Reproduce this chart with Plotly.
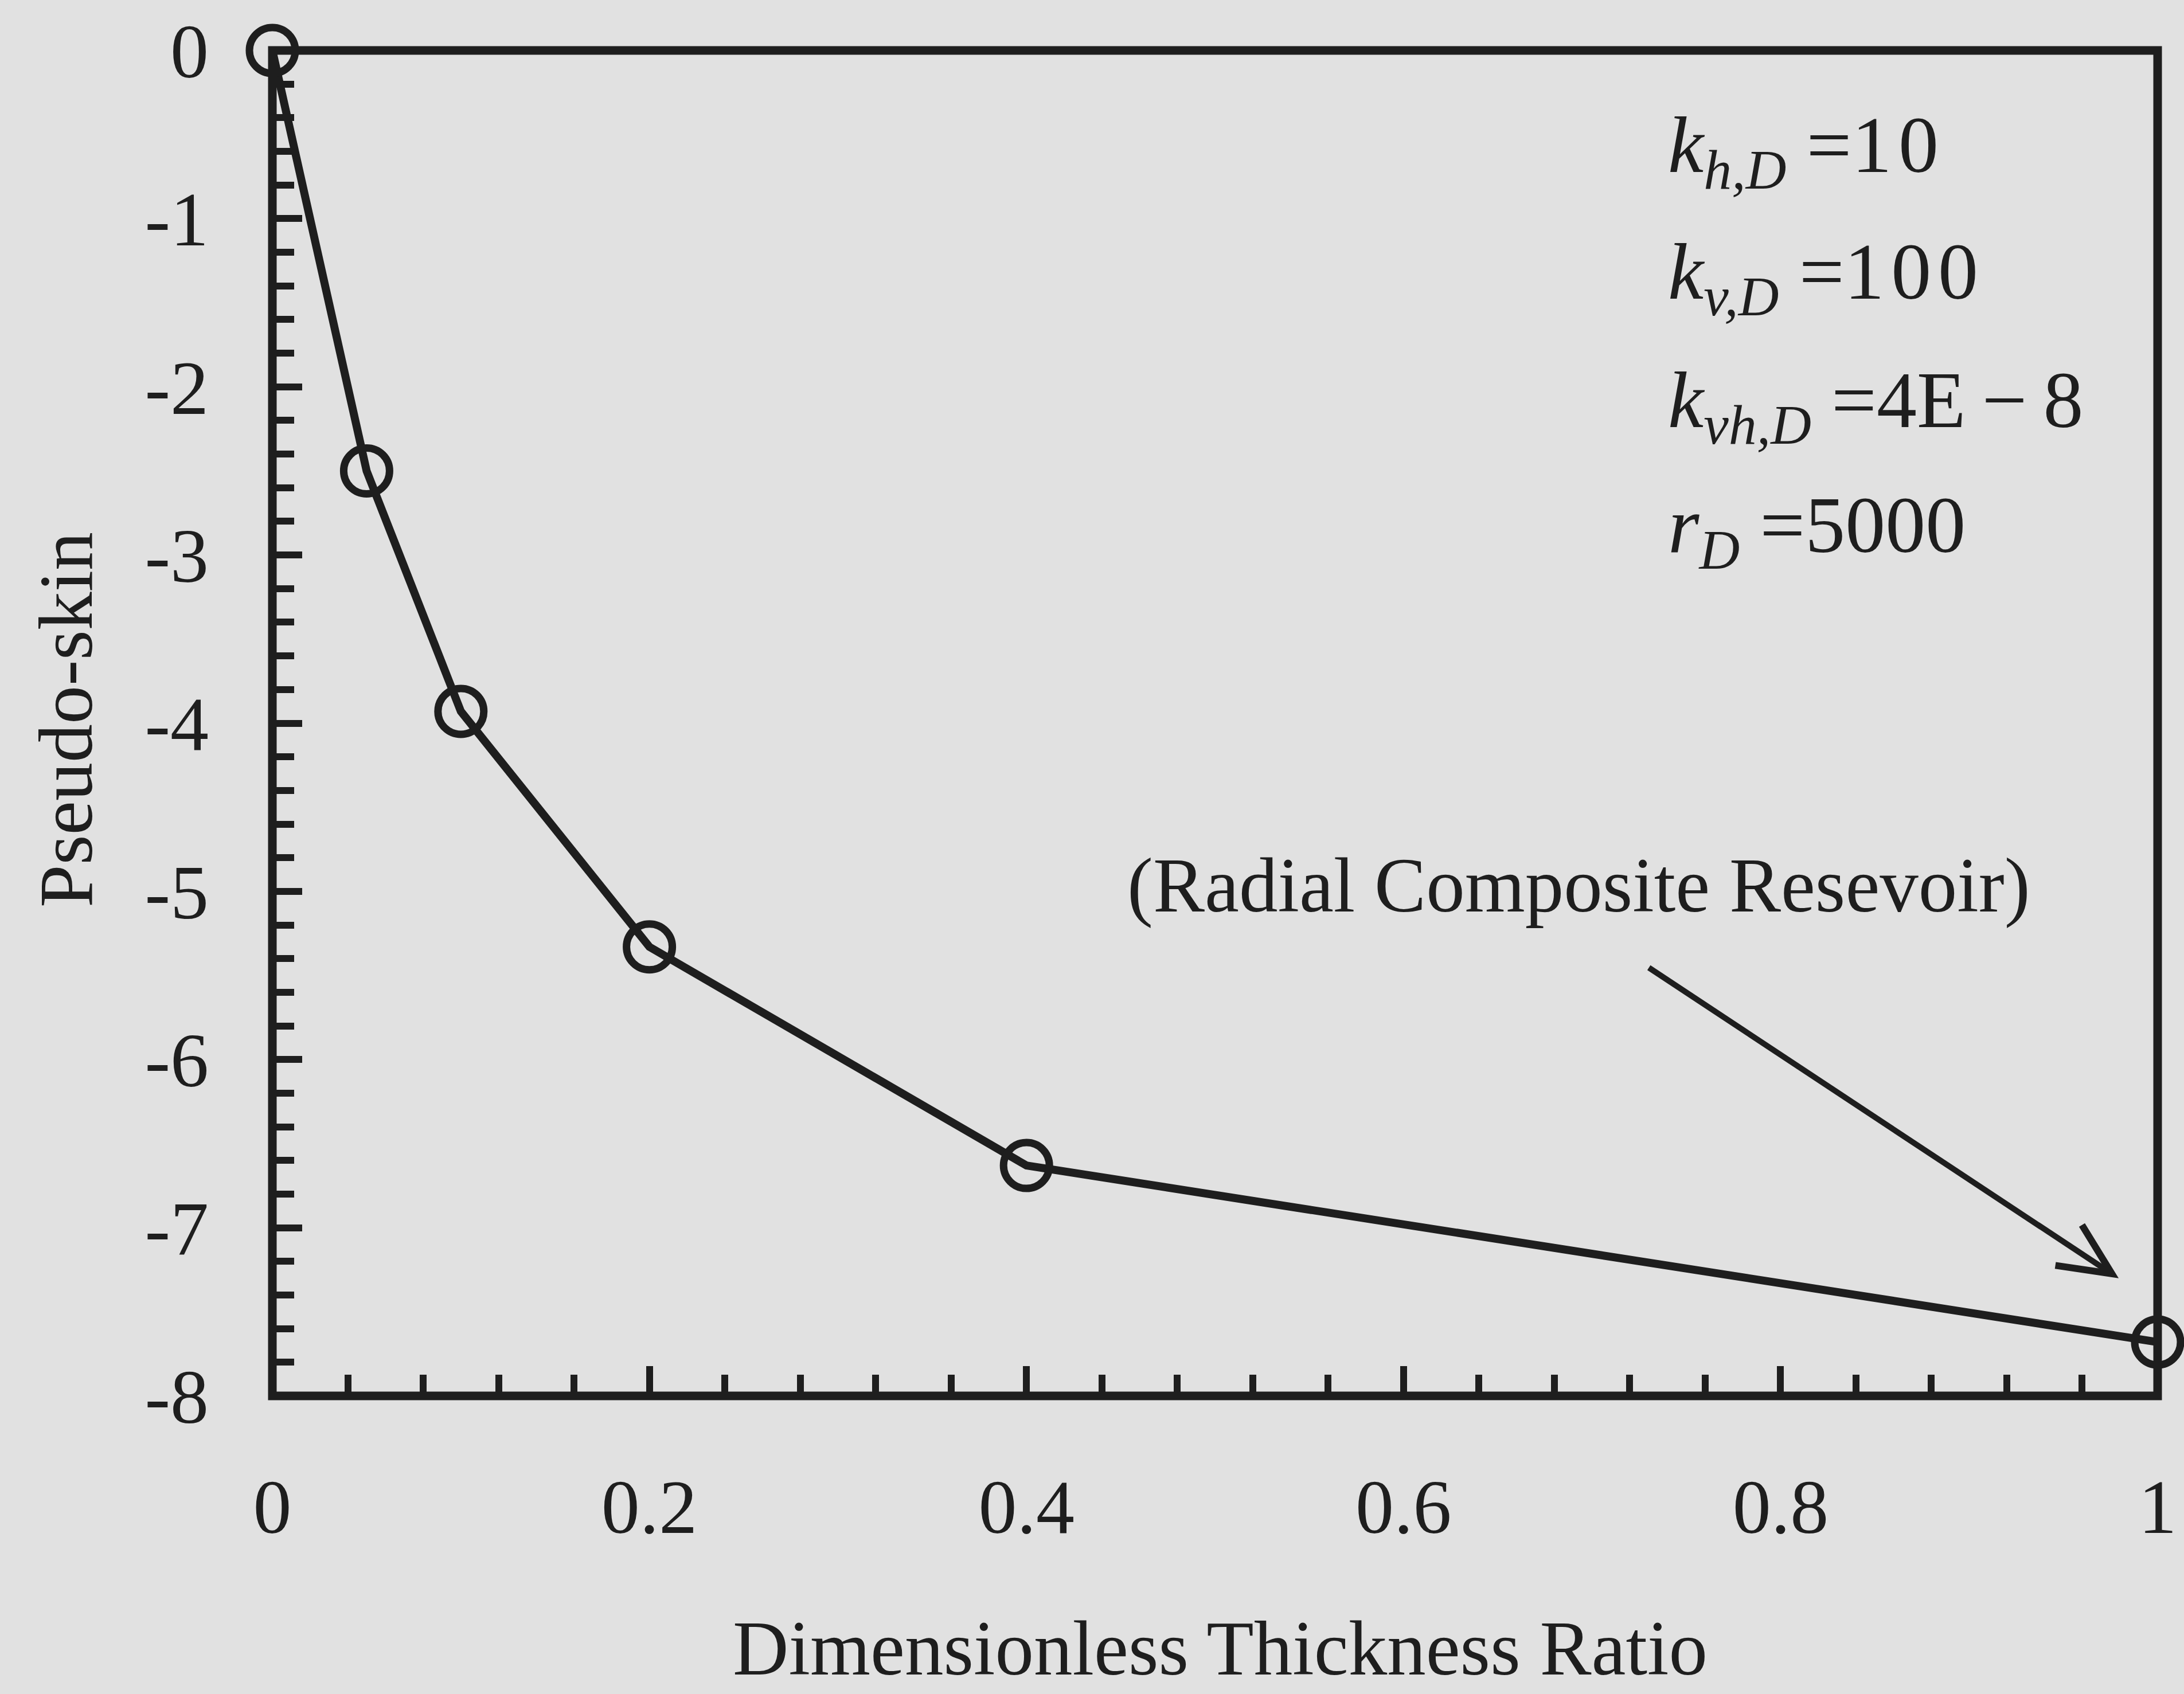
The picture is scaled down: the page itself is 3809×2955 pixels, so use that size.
import math
import plotly.graph_objects as go

# Pseudo-skin against dimensionless thickness ratio (radial composite reservoir)
thickness_ratio = [0.0, 0.05, 0.10, 0.20, 0.40, 1.00]
pseudo_skin = [0.0, -2.50, -3.93, -5.33, -6.63, -7.68]

x_tickvals = [0, 0.2, 0.4, 0.6, 0.8, 1.0]
x_ticktext = ["0", "0.2", "0.4", "0.6", "0.8", "1"]
y_tickvals = [0, -1, -2, -3, -4, -5, -6, -7, -8]
y_ticktext = ["0", "-1", "-2", "-3", "-4", "-5", "-6", "-7", "-8"]

param_lines = [
    "<i>k</i><sub><i>h,D</i></sub> =1\u200a0",
    "<i>k</i><sub><i>v,D</i></sub> =1\u200a0\u200a0",
    "<i>k</i><sub><i>vh,D</i></sub> =4E\u2009\u2212\u20098",
    "<i>r</i><sub><i>D</i></sub> =5000",
]
reservoir_label = "(Radial Composite Resevoir)"
x_title = "Dimensionless Thickness Ratio"
y_title = "Pseudo-skin"

# ---- page geometry (pixels) ----
W, H = 3809, 2955
L, R, T, B = 475, 3773, 88, 2435
INK = "#1e1e1e"
BG = "#e1e1e1"
FONT = "Liberation Serif, Times New Roman, serif"


def px_x(px):
    return (px - L) / (R - L)


def px_y(py):
    return (B - py) / (B - T)


fig = go.Figure()
fig.add_trace(
    go.Scatter(
        x=thickness_ratio,
        y=pseudo_skin,
        mode="lines+markers",
        line=dict(color=INK, width=14),
        marker=dict(symbol="circle-open", size=80, color=INK, line=dict(width=13, color=INK)),
        cliponaxis=False,
        showlegend=False,
    )
)

# plot frame
shapes = [
    dict(type="rect", xref="paper", yref="paper", x0=0, x1=1, y0=0, y1=1,
         line=dict(color=INK, width=15), layer="above")
]

# callout arrow with an open head
tail = (2883, 1688)
tip = (3693, 2222)
ang = math.atan2(tip[1] - tail[1], tip[0] - tail[0])
head_len, half = 100, math.radians(25)
arm1 = (tip[0] - head_len * math.cos(ang - half), tip[1] - head_len * math.sin(ang - half))
arm2 = (tip[0] - head_len * math.cos(ang + half), tip[1] - head_len * math.sin(ang + half))
shapes.append(dict(type="line", xref="paper", yref="paper",
                   x0=px_x(tail[0]), y0=px_y(tail[1]), x1=px_x(tip[0]), y1=px_y(tip[1]),
                   line=dict(color=INK, width=10)))
shapes.append(dict(type="path", xref="paper", yref="paper",
                   path=f"M {px_x(arm1[0])},{px_y(arm1[1])} L {px_x(tip[0])},{px_y(tip[1])} "
                        f"L {px_x(arm2[0])},{px_y(arm2[1])}",
                   line=dict(color=INK, width=12)))

annotations = []
line_mid = [262, 483, 707, 925]
for txt, ymid in zip(param_lines, line_mid):
    annotations.append(dict(text=txt, xref="paper", yref="paper", x=px_x(2914), y=px_y(ymid),
                            xanchor="left", yanchor="middle", showarrow=False,
                            font=dict(family=FONT, size=140, color=INK)))
annotations.append(dict(text=reservoir_label, xref="paper", yref="paper",
                        x=px_x(2760), y=px_y(1544), xanchor="center", yanchor="middle",
                        showarrow=False, font=dict(family=FONT, size=135, color=INK)))
annotations.append(dict(text=x_title, xref="paper", yref="paper",
                        x=px_x(2133), y=px_y(2875), xanchor="center", yanchor="middle",
                        showarrow=False, font=dict(family=FONT, size=135, color=INK)))
annotations.append(dict(text=y_title, xref="paper", yref="paper", textangle=-90,
                        x=px_x(114), y=px_y(1256), xanchor="center", yanchor="middle",
                        showarrow=False, font=dict(family=FONT, size=134, color=INK)))

fig.update_layout(
    width=W, height=H,
    margin=dict(l=L, r=W - R, t=T, b=H - B, pad=0),
    paper_bgcolor=BG, plot_bgcolor=BG,
    shapes=shapes, annotations=annotations,
    font=dict(family=FONT, size=134, color=INK),
)
fig.update_xaxes(
    range=[0, 1], showgrid=False, zeroline=False, showline=False,
    tickmode="array", tickvals=x_tickvals, ticktext=x_ticktext,
    ticks="inside", ticklen=52, tickwidth=12, tickcolor=INK,
    ticklabelstandoff=104,
    tickfont=dict(family=FONT, size=134, color=INK),
    minor=dict(dtick=0.04, tick0=0, ticks="inside", ticklen=37, tickwidth=12,
               tickcolor=INK, showgrid=False),
)
fig.update_yaxes(
    range=[-8, 0], showgrid=False, zeroline=False, showline=False,
    tickmode="array", tickvals=y_tickvals, ticktext=y_ticktext,
    ticks="inside", ticklen=52, tickwidth=12, tickcolor=INK,
    ticklabelstandoff=110,
    tickfont=dict(family=FONT, size=134, color=INK),
    minor=dict(dtick=0.2, tick0=0, ticks="inside", ticklen=38, tickwidth=12,
               tickcolor=INK, showgrid=False),
)

fig.write_html("out.html")
